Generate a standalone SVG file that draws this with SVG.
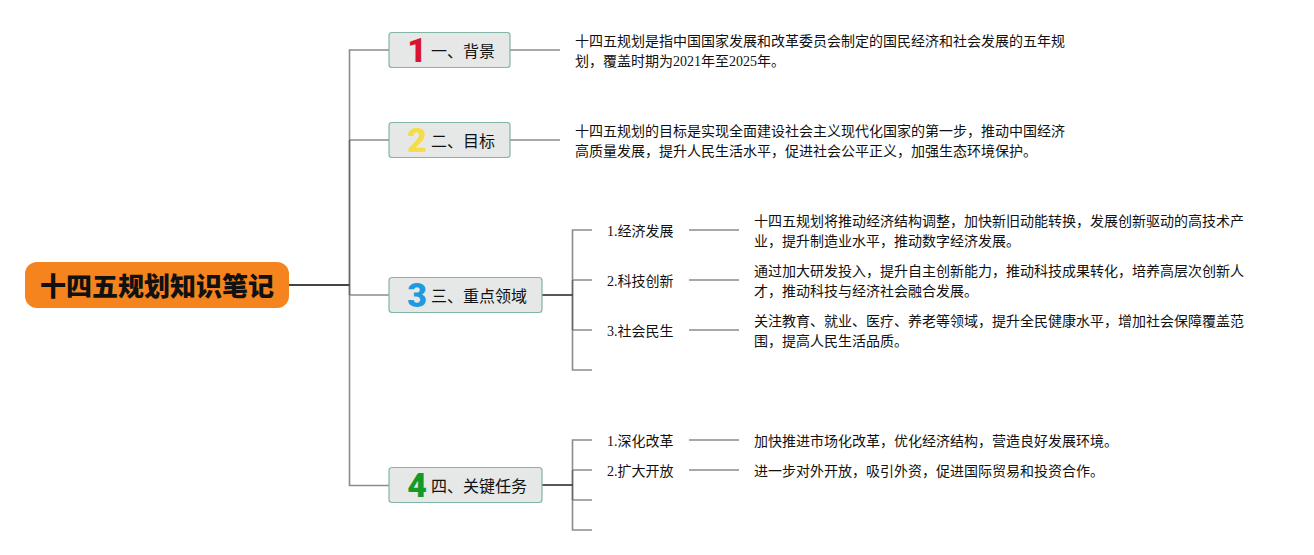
<svg xmlns="http://www.w3.org/2000/svg" width="1314" height="555" viewBox="0 0 1314 555">
<style>
text{font-family:"Liberation Serif","Noto Sans CJK SC",serif;fill:#111}
.t{font-size:14px}
.l{font-size:16px}
.s{font-size:14px}
.n{font-family:"Roboto","Liberation Sans",sans-serif;font-size:34px;font-weight:900;text-anchor:middle}
.box{fill:#e5e8e6;stroke:#82b5a5;stroke-width:1.2}
.c{fill:none;stroke:#8c8c8c;stroke-width:1.6}
.d{fill:none;stroke:#444;stroke-width:1.8}
.m{fill:none;stroke:#666;stroke-width:1.8}
</style>
<rect width="1314" height="555" fill="#fff"/>
<g id="connectors">
<path class="c" d="M389 50H349.500V140M389 140H349.500M389 295H349.500V485.500H389"/>
<path class="m" d="M349.500 140V295"/>
<path class="d" d="M289 285H349.500"/>
<path class="c" d="M510 50H560M510 140H560"/>
<path class="c" d="M592 230H572.500V280M592 280H572.500M592 330H572.500V370H592"/>
<path class="m" d="M572.500 280V330"/>
<path class="d" d="M542 295H572.500"/>
<path class="c" d="M689 230H739M689 280H739M689 330H739"/>
<path class="c" d="M592 440H572.500V470M592 470H572.500M592 500H572.500V530H592"/>
<path class="m" d="M572.500 470V500"/>
<path class="d" d="M542 485H572.500"/>
<path class="c" d="M689 440H739M689 470H739"/>
</g>
<g id="root">
<rect x="25" y="262" width="264" height="46" rx="12" fill="#f5841f"/>
<text x="40" y="296" style="font-size:26px;font-weight:900">十四五规划知识笔记</text>
</g>
<g id="n1">
<rect class="box" x="389" y="32.500" width="121" height="35" rx="3"/>
<text class="n" x="417" y="62" style="fill:#d9142f">1</text>
<text class="l" x="431" y="57">一、背景</text>
</g>
<g id="n1t"><text class="t" x="575" y="46">十四五规划是指中国国家发展和改革委员会制定的国民经济和社会发展的五年规</text><text class="t" x="575" y="66">划，覆盖时期为2021年至2025年。</text></g>
<g id="n2">
<rect class="box" x="389" y="122.500" width="121" height="35" rx="3"/>
<text class="n" x="417" y="152" style="fill:#f7dc4a">2</text>
<text class="l" x="431" y="147">二、目标</text>
</g>
<g id="n2t"><text class="t" x="575" y="136">十四五规划的目标是实现全面建设社会主义现代化国家的第一步，推动中国经济</text><text class="t" x="575" y="156">高质量发展，提升人民生活水平，促进社会公平正义，加强生态环境保护。</text></g>
<g id="n3">
<rect class="box" x="389" y="277.500" width="153" height="35" rx="3"/>
<text class="n" x="417" y="307" style="fill:#1f9ade">3</text>
<text class="l" x="431" y="302">三、重点领域</text>
</g>
<g id="n31"><text class="s" x="607" y="236">1.经济发展</text></g>
<g id="n31t"><text class="t" x="754" y="226">十四五规划将推动经济结构调整，加快新旧动能转换，发展创新驱动的高技术产</text><text class="t" x="754" y="246">业，提升制造业水平，推动数字经济发展。</text></g>
<g id="n32"><text class="s" x="607" y="286">2.科技创新</text></g>
<g id="n32t"><text class="t" x="754" y="276">通过加大研发投入，提升自主创新能力，推动科技成果转化，培养高层次创新人</text><text class="t" x="754" y="296">才，推动科技与经济社会融合发展。</text></g>
<g id="n33"><text class="s" x="607" y="336">3.社会民生</text></g>
<g id="n33t"><text class="t" x="754" y="326">关注教育、就业、医疗、养老等领域，提升全民健康水平，增加社会保障覆盖范</text><text class="t" x="754" y="346">围，提高人民生活品质。</text></g>
<g id="n4">
<rect class="box" x="389" y="467.500" width="153" height="35" rx="3"/>
<text class="n" x="417" y="497" style="fill:#169a25">4</text>
<text class="l" x="431" y="492">四、关键任务</text>
</g>
<g id="n41"><text class="s" x="607" y="446">1.深化改革</text></g>
<g id="n41t"><text class="t" x="754" y="446">加快推进市场化改革，优化经济结构，营造良好发展环境。</text></g>
<g id="n42"><text class="s" x="607" y="476">2.扩大开放</text></g>
<g id="n42t"><text class="t" x="754" y="476">进一步对外开放，吸引外资，促进国际贸易和投资合作。</text></g>
</svg>
